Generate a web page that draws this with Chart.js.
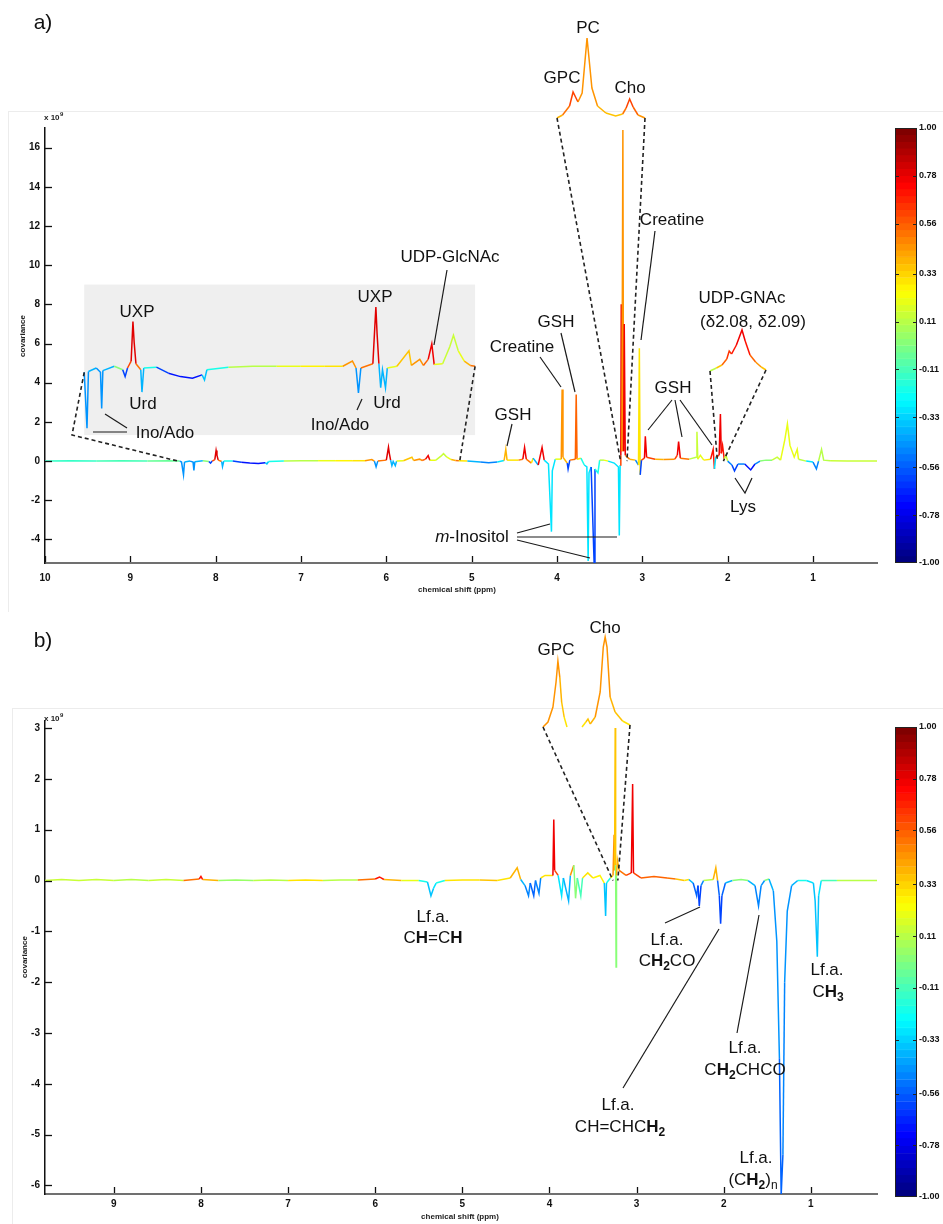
<!DOCTYPE html>
<html><head><meta charset="utf-8">
<script src="https://cdn.jsdelivr.net/npm/chart.js@4.4.1/dist/chart.umd.min.js"></script>
<style>
html,body{margin:0;padding:0;background:#fff}
#page{position:relative;width:943px;height:1224px;overflow:hidden;background:#fff}
#page canvas{position:absolute;left:0;top:0}
.frame{position:absolute;border-left:1px solid #ececec;border-top:1px solid #ececec}
</style></head><body>
<div id="page">
<div class="frame" style="left:8px;top:111px;width:935px;height:500px"></div>
<div class="frame" style="left:12px;top:708px;width:931px;height:516px"></div>
<canvas id="cTop" width="943" height="1224"></canvas>
<canvas id="cTopBar" width="943" height="1224"></canvas>
<canvas id="cBot" width="943" height="1224"></canvas>
<canvas id="cBotBar" width="943" height="1224"></canvas>
</div>
<script>
// ---------------- DATA ----------------
// Panel a): chemical shift (ppm), covariance (x10^9), correlation (colour)
const topPpm = [
 10.00, 9.70, 9.40, 9.10, 8.80, 8.55, 8.42, 8.40, 8.377, 8.365, 8.30,
 8.265, 8.255, 8.245, 8.15, 8.08, 8.06, 8.04, 8.01, 7.995, 7.985, 7.97, 7.93, 7.92, 7.905,
 7.80, 7.70, 7.60, 7.50, 7.42, 7.40, 7.38, 7.20, 7.00, 6.80, 6.60, 6.40, 6.25, 6.17, 6.14, 6.12, 6.10,
 6.00, 5.985, 5.975, 5.965, 5.95, 5.935, 5.92, 5.895, 5.88, 5.80, 5.70, 5.68, 5.61, 5.58, 5.54, 5.51, 5.49, 5.42, 5.36, 5.33, 5.29, 5.24, 5.19, 5.15, 5.05,
 4.90, 4.80, 4.70, 4.62, 4.60, 4.585, 4.45, 4.40, 4.38, 4.36, 4.30, 4.28, 4.22, 4.175, 4.15, 4.10, 4.065, 4.055, 4.02,
 3.95, 3.94, 3.93, 3.88, 3.87, 3.85, 3.785, 3.775, 3.765, 3.72, 3.68, 3.65, 3.635, 3.625, 3.60, 3.565, 3.555, 3.52, 3.50,
 3.45, 3.40, 3.33, 3.28, 3.27, 3.26, 3.252, 3.247, 3.24, 3.228, 3.22, 3.212, 3.20, 3.15, 3.08, 3.045, 3.035, 3.025, 3.01,
 2.975, 2.965, 2.95, 2.85, 2.75, 2.62, 2.59, 2.575, 2.555, 2.45, 2.37, 2.36, 2.35, 2.32, 2.28, 2.20, 2.17, 2.155, 2.14, 2.10, 2.085, 2.075, 2.06, 2.04, 2.02, 2.00,
 1.95, 1.92, 1.88, 1.80, 1.73, 1.68, 1.62, 1.55, 1.48, 1.42, 1.38, 1.33, 1.30, 1.27, 1.22, 1.185, 1.17, 1.08, 1.00, 0.96, 0.935, 0.90, 0.875, 0.80, 0.60, 0.40, 0.25
];
const topCov = [
 0, 0.02, 0, 0.02, 0, 0.02, 0, -0.05, -0.70, -0.04, 0,
 -0.05, -0.47, -0.03, 0.02, -0.02, -0.1, 0, 0.08, 0.54, 0.3, 0.05, -0.02, -0.28, 0,
 0.01, -0.06, -0.1, -0.12, -0.08, -0.14, -0.02, 0.01, 0.02, 0.02, 0.02, 0.02, 0.02, 0.08, 0, -0.29, 0,
 0.05, 0.45, 0.71, 0.4, 0.05, -0.23, -0.02, -0.23, 0, 0.02, 0.2, 0.03, 0.1, 0.03, 0.1, 0.28, 0.04, 0.05, 0.25, 0.38, 0.2, 0.08, 0.03, 0.02, 0,
 -0.05, -0.08, -0.04, 0.03, 0.6, 0.05, 0.05, 0.1, 0.7, 0.1, -0.1, 0.15, -0.2, 0.7, 0.05, -0.15, -3.6, -0.5, 0.1,
 0.1, 3.66, 0.2, -0.1, -0.4, 0.05, 0.1, 3.4, 0.1, 0.15, -0.2, -0.3, -5.1, -0.6, -0.3, -5.2, -0.4, -0.6, 0.05,
 0.05, 0, -0.1, -0.3, -3.8, -0.2, 0.3, 8.0, 0.5, 16.9, 0.5, 7.0, 0.3, 0.1, 0.05, -0.2, 5.76, -0.7, 0.05,
 0.15, 1.27, 0.2, 0.1, 0.08, 0.1, 0.3, 1.0, 0.15, 0.1, 0.2, 1.5, 0.1, 0.3, 0.05, 0.1, 0.6, -0.4, 0.2, 0.3, 2.4, 0.4, 0.8, 0.1, 0.3, 0,
 -0.2, -0.5, -0.15, -0.15, -0.45, -0.15, 0, 0.05, 0.05, 0.2, 0.05, 1.1, 1.9, 0.8, 0.2, 0.6, 0.1, 0, -0.05, -0.4, 0, 0.6, 0.05, 0.02, 0, 0, 0
];
const topCorr = [
 -0.22, -0.15, -0.2, -0.1, -0.15, -0.05, -0.3, -0.45, -0.45, -0.4, -0.3,
 -0.45, -0.45, -0.4, 0, -0.5, -0.6, -0.3, 0.6, 0.8, 0.8, 0.5, -0.3, -0.4, -0.3,
 -0.2, -0.6, -0.7, -0.7, -0.6, -0.35, -0.2, 0, 0.1, 0.2, 0.25, 0.3, 0.2, 0.45, 0.1, -0.45, -0.1,
 0.5, 0.8, 0.8, 0.8, 0.6, -0.4, -0.3, -0.4, -0.1, 0.2, 0.35, 0.3, 0.45, 0.3, 0.55, 0.75, 0.4, 0.2, 0.15, 0.15, 0.2, 0.4, 0.5, 0.3, 0.1,
 -0.4, -0.5, -0.3, 0.3, 0.4, 0.3, 0.2, 0.5, 0.75, 0.5, -0.2, 0.3, -0.4, 0.75, 0.3, -0.3, -0.3, -0.3, 0.2,
 0.4, 0.45, 0.4, -0.5, -0.6, 0.2, 0.5, 0.55, 0.4, 0.3, -0.2, -0.3, -0.3, -0.3, -0.5, -0.6, -0.5, -0.2, 0.1,
 0.2, 0.1, -0.3, -0.3, -0.3, -0.3, 0.6, 0.75, 0.6, 0.45, 0.6, 0.75, 0.5, 0.4, 0.3, -0.5, 0.3, -0.6, 0.3,
 0.6, 0.75, 0.6, 0.4, 0.4, 0.45, 0.6, 0.75, 0.5, 0.3, 0.1, 0.15, 0.1, 0.2, 0.1, 0.3, 0.7, -0.3, 0.5, 0.6, 0.75, 0.6, 0.7, 0.2, 0.15, 0,
 -0.5, -0.6, -0.5, -0.55, -0.7, -0.5, -0.2, 0, 0.1, 0.15, 0.1, 0.2, 0.2, 0.2, 0.15, 0.2, 0.1, 0, -0.3, -0.5, 0, 0.1, 0.1, 0.15, 0.15, 0.15, 0.15
];
// Panel a) inset: GPC / PC / Cho (relative units)
const pcPpm  = [3.247, 3.243, 3.238, 3.2355, 3.232, 3.229, 3.2255, 3.222, 3.218, 3.212, 3.205, 3.200, 3.1975, 3.195, 3.1925, 3.189, 3.184];
const pcCov  = [0, 0.3, 1.2, 2.6, 1.6, 2.5, 8.0, 3.0, 1.2, 0.5, 0.2, 0.4, 1.0, 1.9, 1.1, 0.3, 0];
const pcCorr = [0.3, 0.4, 0.5, 0.6, 0.5, 0.45, 0.45, 0.45, 0.4, 0.35, 0.3, 0.35, 0.5, 0.6, 0.55, 0.45, 0.4];
// Panel a) inset: UDP-GNAc (relative units)
const udpPpm  = [2.120, 2.112, 2.105, 2.099, 2.096, 2.093, 2.087, 2.080, 2.076, 2.070, 2.063, 2.056, 2.050];
const udpCov  = [0, 0.3, 0.6, 1.2, 2.0, 1.7, 2.6, 4.1, 3.0, 1.6, 0.9, 0.4, 0.1];
const udpCorr = [-0.1, 0.1, 0.35, 0.55, 0.65, 0.65, 0.7, 0.75, 0.7, 0.55, 0.45, 0.35, 0.3];

// Panel b)
const botPpm = [
 9.79, 9.60, 9.40, 9.20, 9.00, 8.80, 8.60, 8.40, 8.20, 8.02, 8.00, 7.98,
 7.80, 7.60, 7.40, 7.20, 7.00, 6.80, 6.60, 6.40, 6.20, 6.00, 5.95, 5.90, 5.70, 5.50, 5.40, 5.36, 5.33, 5.30, 5.20, 5.00,
 4.80, 4.60, 4.45, 4.37, 4.33, 4.28, 4.24, 4.22, 4.18, 4.16, 4.12, 4.10, 4.05, 3.96, 3.95, 3.94, 3.90, 3.86, 3.84,
 3.78, 3.76, 3.72, 3.70, 3.68, 3.64, 3.62, 3.56, 3.50, 3.42, 3.37, 3.355, 3.345, 3.30, 3.27, 3.258, 3.252, 3.245, 3.24, 3.235, 3.23, 3.22, 3.20,
 3.12, 3.06, 3.045, 3.035, 2.95, 2.80, 2.65, 2.55, 2.45, 2.40, 2.35, 2.31, 2.295, 2.28, 2.26, 2.23, 2.12, 2.09, 2.07, 2.05, 2.035, 2.02, 1.98,
 1.90, 1.80, 1.72, 1.64, 1.60, 1.57, 1.53, 1.48, 1.43, 1.39, 1.36, 1.34, 1.32, 1.30, 1.27, 1.22, 1.15, 1.05, 0.97, 0.95, 0.925, 0.91, 0.88, 0.70, 0.50, 0.24
];
const botCov = [
 0, 0.02, 0, 0.02, 0, 0.02, 0, 0.02, 0, 0.03, 0.08, 0.02,
 0, 0.01, 0, 0.01, 0, 0.01, 0, 0.01, 0.01, 0.03, 0.07, 0.02, 0, 0, -0.03, -0.3, -0.15, -0.05, 0, 0.01,
 0.01, 0, 0.05, 0.25, 0.02, -0.1, -0.3, -0.05, -0.3, 0, -0.25, 0.05, 0.1, 0.1, 1.2, 0.2, 0.1, -0.3, 0.05,
 -0.4, 0.1, 0.3, -0.35, 0.05, -0.3, 0.05, 0.15, 0.05, 0.1, -0.05, -0.7, -0.05, 0.05, 0.1, 0.9, 0.2, 3.0, 0.3, -1.7, 0.1, 0.4, 0.2,
 0.1, 0.15, 1.9, 0.15, 0.05, 0.08, 0.05, 0.03, 0, 0.02, -0.05, -0.3, -0.1, -0.5, -0.1, 0, 0.02, 0.25, 0, -0.3, -0.85, -0.3, -0.05,
 0, 0.02, 0, -0.1, -0.5, -0.1, 0, 0.03, -0.2, -1.2, -3.5, -6.2, -5.4, -2.0, -0.6, -0.1, 0, 0, -0.05, -0.4, -1.5, -0.3, 0, 0, 0, 0
];
const botCorr = [
 0.2, 0.15, 0.25, 0.15, 0.2, 0.1, 0.25, 0.15, 0.2, 0.5, 0.7, 0.4,
 0.15, 0.05, -0.2, 0.1, 0.2, 0.3, 0.2, 0.1, 0.3, 0.5, 0.7, 0.4, 0.2, 0.1, -0.2, -0.35, -0.3, -0.2, 0.1, 0.3,
 0.35, 0.15, 0.3, 0.4, 0.2, -0.4, -0.5, -0.4, -0.55, 0.1, -0.5, 0.2, 0.3, 0.6, 0.75, 0.6, 0.2, -0.3, 0.1,
 -0.4, 0.4, 0.45, 0, 0.1, -0.1, 0.1, 0.3, 0.2, 0.25, -0.3, -0.35, -0.2, 0.3, 0.3, 0.45, 0.3, 0.35, 0.2, 0, 0.2, 0.4, 0.5,
 0.55, 0.6, 0.75, 0.6, 0.5, 0.55, 0.5, 0.35, 0.1, 0.3, -0.4, -0.55, -0.5, -0.6, -0.5, -0.2, 0.1, 0.4, 0, -0.55, -0.6, -0.55, -0.4,
 -0.2, 0, -0.1, -0.4, -0.5, -0.45, -0.2, 0, -0.4, -0.45, -0.45, -0.55, -0.5, -0.45, -0.45, -0.4, -0.2, -0.1, -0.3, -0.35, -0.35, -0.3, -0.1, 0.1, 0.1, 0.1
];
// Panel b) inset: GPC and Cho (relative units, gap between the two traces)
const binPpm  = [3.250, 3.246, 3.242, 3.2395, 3.238, 3.2365, 3.235, 3.233, 3.2307, 3.225, 3.2186, 3.2155, 3.2138, 3.212, 3.208, 3.204, 3.2015, 3.200, 3.1985, 3.196, 3.192, 3.186, 3.180];
const binCov  = [0, 0.5, 2.0, 4.5, 6.6, 5.0, 2.5, 1.0, 0, null, 0, 0.5, 0.8, 0.3, 1.0, 3.5, 8.0, 9.0, 8.0, 3.0, 1.5, 0.6, 0.2];
const binCorr = [0.45, 0.45, 0.45, 0.45, 0.45, 0.4, 0.35, 0.3, 0.15, 0, 0.1, 0.3, 0.35, 0.3, 0.4, 0.45, 0.45, 0.45, 0.45, 0.4, 0.35, 0.3, 0.25];

// Tick labels
const topXTicks = [10, 9, 8, 7, 6, 5, 4, 3, 2, 1];
const topYTicks = [-4, -2, 0, 2, 4, 6, 8, 10, 12, 14, 16];
const botXTicks = [9, 8, 7, 6, 5, 4, 3, 2, 1];
const botYTicks = [-6, -5, -4, -3, -2, -1, 0, 1, 2, 3];
const cbTicks = ['1.00', '0.78', '0.56', '0.33', '0.11', '-0.11', '-0.33', '-0.56', '-0.78', '-1.00'];

// ---------------- HELPERS ----------------
const FONT = '"Liberation Sans", Arial, Helvetica, sans-serif';
const NARROW = '"Liberation Sans Narrow", "Liberation Sans", Arial, sans-serif';
const L = 45, R = 877;
function jetT(t){ const f=v=>Math.round(255*Math.max(0,Math.min(1,v)));
  return `rgb(${f(1.5-Math.abs(4*t-3))},${f(1.5-Math.abs(4*t-2))},${f(1.5-Math.abs(4*t-1))})`; }
function jetC(c){ const t=(Math.max(-1,Math.min(1,c))+1)/2; const k=Math.min(63,Math.floor(t*64)); return jetT(k/63); }
const pts=(P,V,C,lo=-Infinity,hi=Infinity)=>P.map((p,i)=>({x:p,y:V[i],c:C[i]})).filter(d=>d.x>=lo-1e-9&&d.x<=hi+1e-9);
function lineDS(data,xid,yid,extra){ return Object.assign({type:'line',data,xAxisID:xid,yAxisID:yid,borderWidth:1.5,pointRadius:0,tension:0,spanGaps:false,borderColor:'#0c0',
  segment:{borderColor:ctx=>{const a=data[ctx.p0DataIndex],b=data[ctx.p1DataIndex];const s=Math.abs(a.y)>=Math.abs(b.y)?a:b;return jetC(s.c);}}},extra||{}); }
// reversed x scale through two anchors (value->pixel)
function xr(v1,p1,v2,p2){ const k=(p2-p1)/(v1-v2); const max=v1+(p1-L)/k; return {type:'linear',axis:'x',display:false,reverse:true,min:max-(R-L)/k,max}; }
function yr(p0,k,T,B){ return {type:'linear',axis:'y',display:false,min:-(B-p0)/k,max:(p0-T)/k}; }
const tickFont={family:FONT,size:10,weight:'bold'};
function axisX(min,max,ticks,B,pad){ return {type:'linear',axis:'x',reverse:true,min,max,
  afterBuildTicks:s=>{s.ticks=ticks.map(v=>({value:v}));}, afterFit:s=>{s.height=1224-B;},
  grid:{drawOnChartArea:false,drawTicks:false}, border:{display:true,color:'#707070',width:2},
  ticks:{autoSkip:false,maxRotation:0,padding:pad,color:'#111',font:tickFont,callback:v=>String(v)}}; }
function axisY(min,max,ticks){ return {type:'linear',axis:'y',min,max,
  afterBuildTicks:s=>{s.ticks=ticks.map(v=>({value:v}));}, afterFit:s=>{s.width=L;},
  grid:{drawOnChartArea:false,drawTicks:false}, border:{display:true,color:'#111',width:1.5},
  ticks:{padding:5,color:'#111',font:tickFont,callback:v=>String(v)}}; }
const S=(sx,sy,a,b)=>({s:[sx,sy],v:[a,b]});
function rp(ch,p){ if(Array.isArray(p)) return p; return [ch.scales[p.s[0]].getPixelForValue(p.v[0]), ch.scales[p.s[1]].getPixelForValue(p.v[1])]; }
function drawRich(c,segs,cx,cy,size){
  const fnt=st=>`${st.includes('i')?'italic ':''}${st.includes('b')?'bold ':''}${(st.includes('s')||st.includes('u'))?Math.round(size*0.68):size}px ${FONT}`;
  let w=0; segs.forEach(([t,st])=>{c.font=fnt(st||'');w+=c.measureText(t).width;});
  let x=cx-w/2; c.textBaseline='middle'; c.textAlign='left';
  segs.forEach(([t,st])=>{st=st||''; c.font=fnt(st); const dy=st.includes('s')?size*0.32:(st.includes('u')?-size*0.35:0); c.fillText(t,x,cy+dy); x+=c.measureText(t).width;});
}
function deco(cfg){ return {id:'deco',
  beforeDatasetsDraw(ch){ const c=ch.ctx; (cfg.boxes||[]).forEach(b=>{ const xs=ch.scales[b.sx],ys=ch.scales[b.sy];
    const x0=xs.getPixelForValue(b.x0),x1=xs.getPixelForValue(b.x1),y0=ys.getPixelForValue(b.y0),y1=ys.getPixelForValue(b.y1);
    c.save(); c.fillStyle=b.fill; c.fillRect(Math.min(x0,x1),Math.min(y0,y1),Math.abs(x1-x0),Math.abs(y1-y0)); c.restore(); }); },
  afterDraw(ch){ const c=ch.ctx, a=ch.chartArea, xs=ch.scales.x, ys=ch.scales.y; c.save();
    c.strokeStyle='#111'; c.lineWidth=1.3;
    xs.ticks.forEach(t=>{const x=Math.round(xs.getPixelForValue(t.value))+0.5; c.beginPath(); c.moveTo(x,a.bottom-1); c.lineTo(x,a.bottom-cfg.tl); c.stroke();});
    ys.ticks.forEach(t=>{const y=Math.round(ys.getPixelForValue(t.value))+0.5; c.beginPath(); c.moveTo(a.left,y); c.lineTo(a.left+cfg.tl,y); c.stroke();});
    c.strokeStyle='#222'; c.lineWidth=1.6; c.setLineDash([4,3]);
    (cfg.dashed||[]).forEach(pl=>{ c.beginPath(); pl.forEach((p,i)=>{const q=rp(ch,p); i?c.lineTo(q[0],q[1]):c.moveTo(q[0],q[1]);}); c.stroke(); });
    c.setLineDash([]); c.lineWidth=1.2; c.strokeStyle='#1a1a1a';
    (cfg.lines||[]).forEach(pl=>{ c.beginPath(); pl.forEach((p,i)=>{const q=rp(ch,p); i?c.lineTo(q[0],q[1]):c.moveTo(q[0],q[1]);}); c.stroke(); });
    c.fillStyle='#111';
    (cfg.texts||[]).forEach(t=>drawRich(c, t.segs||[[t.t,'']], t.x, t.y, t.size||17));
    c.fillStyle='#222';
    c.font=`bold 8px ${FONT}`; c.textAlign='center'; c.textBaseline='middle';
    c.fillText('chemical shift (ppm)', cfg.xt[0], cfg.xt[1]);
    c.save(); c.translate(cfg.yt[0], cfg.yt[1]); c.rotate(-Math.PI/2); c.fillText('covariance',0,0); c.restore();
    c.textAlign='left'; c.font=`bold 8px ${FONT}`; c.fillText('x 10', cfg.exp[0], cfg.exp[1]);
    const w=c.measureText('x 10').width; c.font=`bold 6px ${FONT}`; c.fillText('9', cfg.exp[0]+w+0.5, cfg.exp[1]-4);
    c.restore(); } }; }
const cbDeco={id:'cbdeco', afterDraw(ch){ const c=ch.ctx,a=ch.chartArea,s=ch.scales.yR; c.save(); c.strokeStyle='#222'; c.lineWidth=1;
  c.strokeRect(a.left+0.5,a.top+0.5,a.right-a.left-1,a.bottom-a.top-1);
  s.ticks.forEach(t=>{ const y=Math.round(s.getPixelForValue(t.value))+0.5; if(Math.abs(t.value)>0.99) return;
    c.beginPath(); c.moveTo(a.left,y); c.lineTo(a.left+4,y); c.moveTo(a.right-4,y); c.lineTo(a.right,y); c.stroke(); });
  c.restore(); }};
function colorbar(id,T,B){ const lv=Array.from({length:64},(_,i)=>i); const cols=lv.map(i=>jetT(i/63));
  new Chart(document.getElementById(id),{type:'bar',
    data:{labels:lv,datasets:[{data:lv.map(()=>1),backgroundColor:cols,borderColor:cols,borderWidth:{top:0.6,bottom:0.6,left:0,right:0},borderSkipped:false,barPercentage:1,categoryPercentage:1,xAxisID:'x',yAxisID:'y'}]},
    options:{indexAxis:'y',responsive:false,animation:false,events:[],plugins:{legend:{display:false},tooltip:{enabled:false}},
      layout:{padding:{left:895,right:0,top:T,bottom:1224-B}},
      scales:{x:{display:false,min:0,max:1}, y:{display:false,reverse:true},
        yR:{type:'linear',axis:'y',position:'right',offset:false,grace:0,min:-1,max:1,afterBuildTicks:s=>{s.ticks=cbTicks.map(v=>({value:parseFloat(v)}));},
          afterFit:s=>{s.width=943-917;}, grid:{drawOnChartArea:false,drawTicks:false,offset:false}, border:{display:false},
          ticks:{padding:2,color:'#111',font:{family:NARROW,size:9,weight:'bold'},callback:(v,i)=>cbTicks[i]}}}},
    plugins:[cbDeco]}); }

// ---------------- PANEL a) ----------------
const tMain=pts(topPpm,topCov,topCorr), tIn=pts(topPpm,topCov,topCorr,5.15,8.40);
const tPC=pts(pcPpm,pcCov,pcCorr), tUDP=pts(udpPpm,udpCov,udpCorr);
const topCfg={tl:7, xt:[457,590], yt:[23,336], exp:[44,118],
 boxes:[{sx:'xIn',sy:'yIn',x0:8.40,x1:5.15,y0:0.97,y1:-0.78,fill:'#efefef'}],
 dashed:[
  [S('xIn','yIn',8.40,-0.05),[72,435],S('x','y',8.44,0)],
  [S('xIn','yIn',5.15,0.02),S('x','y',5.14,0)],
  [S('xPC','yPC',3.247,0),S('x','y',3.255,0)],
  [S('xPC','yPC',3.184,0),S('x','y',3.18,0)],
  [S('xUDP','yUDP',2.12,0),S('x','y',2.12,0)],
  [S('xUDP','yUDP',2.05,0.1),S('x','y',2.05,0)]
 ],
 lines:[
  [[127,432],[93,432]], [[127,428],[105,414]], [[362,399],[357,410]], [[447,270],[434,345]],
  [[540,357],[561,387]], [[561,333],[575,392]], [[512,424],[507,446]], [[655,231],[641,340]],
  [[672,400],[648,430]], [[675,400],[682,437]], [[680,400],[712,445]],
  [[735,478],[745,493],[752,478]],
  [[517,533],[550,524]], [[517,537],[617,537]], [[517,540],[590,558]]
 ],
 texts:[
  {t:'a)',x:43,y:23,size:21},
  {t:'UXP',x:137,y:312},{t:'UXP',x:375,y:297},{t:'Urd',x:143,y:404},{t:'Urd',x:387,y:403},
  {t:'Ino/Ado',x:165,y:433},{t:'Ino/Ado',x:340,y:425},{t:'UDP-GlcNAc',x:450,y:257},
  {t:'PC',x:588,y:28},{t:'GPC',x:562,y:78},{t:'Cho',x:630,y:88},
  {t:'Creatine',x:522,y:347},{t:'GSH',x:556,y:322},{t:'GSH',x:513,y:415},{t:'Creatine',x:672,y:220},
  {t:'UDP-GNAc',x:742,y:298},{t:'(δ2.08, δ2.09)',x:753,y:322},{t:'GSH',x:673,y:388},{t:'Lys',x:743,y:507},
  {segs:[['m','i'],['-Inositol','']],x:472,y:537}
 ]};
new Chart(document.getElementById('cTop'),{type:'line',
 data:{datasets:[lineDS(tMain,'x','y'), lineDS(tIn,'xIn','yIn'), lineDS(tPC,'xPC','yPC',{clip:false}), lineDS(tUDP,'xUDP','yUDP',{clip:false})]},
 options:{responsive:false,animation:false,events:[],plugins:{legend:{display:false},tooltip:{enabled:false}},
  layout:{padding:{left:0,right:943-R,top:128,bottom:0}},
  scales:{x:axisX(0.25,10,topXTicks,563,9), y:axisY(-5.2,17,topYTicks),
   xIn:xr(8.377,87,5.974,376), yIn:yr(368,86,128,563),
   xPC:xr(3.247,557,3.184,645), yPC:yr(118,10,128,563),
   xUDP:xr(2.12,710,2.05,766), yUDP:yr(371,10,128,563)}},
 plugins:[deco(topCfg)]});
colorbar('cTopBar',128,563);

// ---------------- PANEL b) ----------------
const bMain=pts(botPpm,botCov,botCorr), bIn=pts(binPpm,binCov,binCorr);
const botCfg={tl:7, xt:[460,1217], yt:[25,957], exp:[44,719],
 dashed:[
  [S('xBin','yBin',3.250,0),S('x','y',3.27,0)],
  [S('xBin','yBin',3.180,0.2),S('x','y',3.215,0)]
 ],
 lines:[ [[665,923],[700,907]], [[623,1088],[719,929]], [[737,1033],[759,915]] ],
 texts:[
  {t:'b)',x:43,y:641,size:21},
  {t:'GPC',x:556,y:650},{t:'Cho',x:605,y:628},
  {t:'Lf.a.',x:433,y:917},{segs:[['C',''],['H','b'],['=C',''],['H','b']],x:433,y:938},
  {t:'Lf.a.',x:667,y:940},{segs:[['C',''],['H','b'],['2','bs'],['CO','']],x:667,y:961},
  {t:'Lf.a.',x:618,y:1105},{segs:[['CH=CHC',''],['H','b'],['2','bs']],x:620,y:1127},
  {t:'Lf.a.',x:745,y:1048},{segs:[['C',''],['H','b'],['2','bs'],['CHCO','']],x:745,y:1070},
  {t:'Lf.a.',x:827,y:970},{segs:[['C',''],['H','b'],['3','bs']],x:828,y:992},
  {t:'Lf.a.',x:756,y:1158},{segs:[['(C',''],['H','b'],['2','bs'],[')',''],['n','s']],x:753,y:1180}
 ]};
new Chart(document.getElementById('cBot'),{type:'line',
 data:{datasets:[lineDS(bMain,'x','y'), lineDS(bIn,'xBin','yBin',{clip:false})]},
 options:{responsive:false,animation:false,events:[],plugins:{legend:{display:false},tooltip:{enabled:false}},
  layout:{padding:{left:0,right:943-R,top:721,bottom:0}},
  scales:{x:axisX(0.24,9.79,botXTicks,1194,4), y:axisY(-6.17,3.14,botYTicks),
   xBin:xr(3.250,543,3.180,630), yBin:yr(727,10,721,1194)}},
 plugins:[deco(botCfg)]});
colorbar('cBotBar',727,1197);
</script>
</body></html>
